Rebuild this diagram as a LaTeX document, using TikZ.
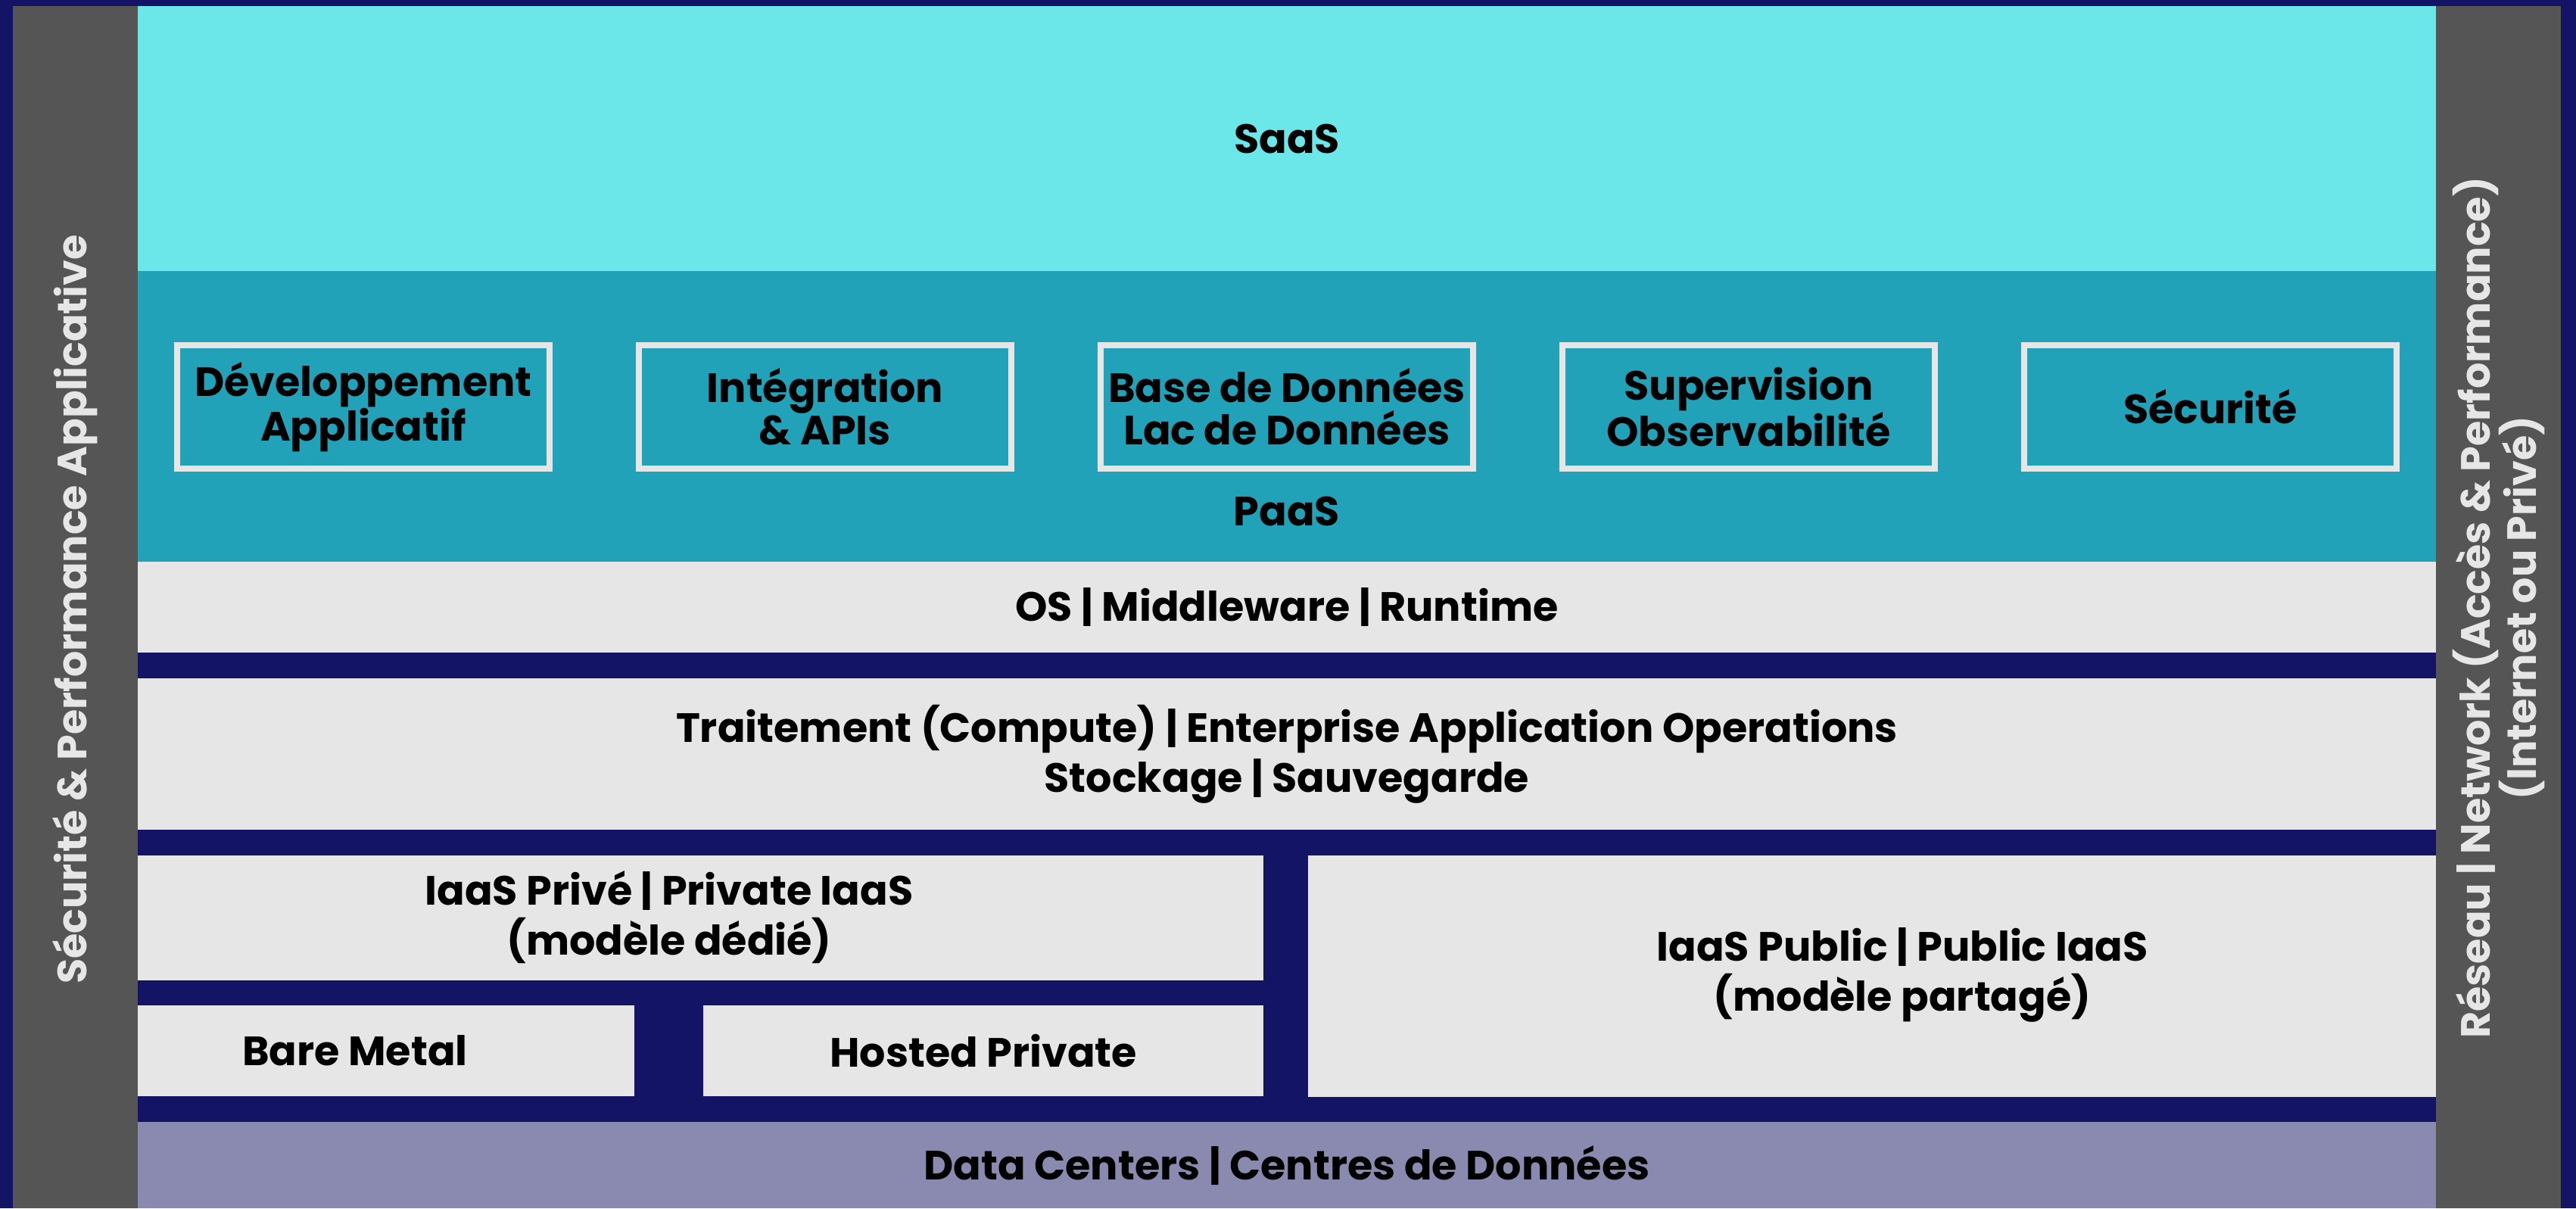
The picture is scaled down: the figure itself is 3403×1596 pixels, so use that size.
\documentclass[tikz,border=0pt]{standalone}
\usepackage{fontspec}
\setmainfont{Poppins}
\usetikzlibrary{fit}
\definecolor{navy}{HTML}{141466}
\definecolor{sidegray}{HTML}{555555}
\definecolor{saascol}{HTML}{6BE6E9}
\definecolor{paascol}{HTML}{22A2B8}
\definecolor{lightg}{HTML}{E6E6E6}
\definecolor{dccol}{HTML}{8A8AB1}
\begin{document}
\begin{tikzpicture}[x=0.5pt,y=-0.5pt,
  lbl/.style={font=\fontsize{27}{33}\selectfont\bfseries, align=center, text=black, inner sep=0},
  boxlbl/.style={lbl, font=\fontsize{27}{28}\selectfont\bfseries},
  sidelbl/.style={lbl, font=\fontsize{27}{30.5}\selectfont\bfseries, text=lightg, rotate=90},
  area/.style={inner sep=0, outer sep=0, draw=none},
  subbox/.style={inner sep=0, outer sep=0, draw=lightg, line width=4pt, fill=paascol}
]
\useasboundingbox (0,0) rectangle (3403,1596);
\fill[navy] (0,0) rectangle (3403,1596);
% side columns
\node[area, fill=sidegray, fit={(17,8) (182,1596)}] (leftcol) {};
\node[area, fill=sidegray, fit={(3218,8) (3383,1596)}] (rightcol) {};
% layers
\node[area, fill=saascol, fit={(182,8) (3218,358)}] (saas) {};
\node[area, fill=paascol, fit={(182,358) (3218,742)}] (paas) {};
\node[area, fill=lightg, fit={(182,742) (3218,862)}] (os) {};
\node[area, fill=lightg, fit={(182,896) (3218,1096)}] (compute) {};
\node[area, fill=lightg, fit={(182,1130) (1669,1295)}] (priv) {};
\node[area, fill=lightg, fit={(182,1328) (838,1448)}] (bare) {};
\node[area, fill=lightg, fit={(929,1328) (1669,1448)}] (hosted) {};
\node[area, fill=lightg, fit={(1728,1130) (3218,1449)}] (pub) {};
\node[area, fill=dccol, fit={(182,1482) (3218,1596)}] (dc) {};
% PaaS sub boxes
\node[subbox, fit={(234,456) (726,619)}] (dev) {};
\node[subbox, fit={(844,456) (1336,619)}] (integ) {};
\node[subbox, fit={(1454,456) (1946,619)}] (bdd) {};
\node[subbox, fit={(2064,456) (2556,619)}] (superv) {};
\node[subbox, fit={(2674,456) (3166,619)}] (secu) {};
% labels
\node[lbl] (saasT) at (saas.center) {SaaS};
\node[boxlbl] (devT) at (dev.center) {Développement\\Applicatif};
\node[boxlbl] (integT) at (integ.center) {Intégration\\\& APIs};
\node[boxlbl] (bddT) at (bdd.center) {Base de Données\\Lac de Données};
\node[boxlbl] (supervT) at (superv.center) {Supervision\\Observabilité};
\node[boxlbl] (secuT) at (secu.center) {Sécurité};
\node[lbl] (paasT) at (1700,675) {PaaS};
\node[lbl] (osT) at (os.center) {OS | Middleware | Runtime};
\node[lbl] (computeT) at (compute.center) {Traitement (Compute) | Enterprise Application Operations\\Stockage | Sauvegarde};
\node[lbl] (privT) at (884,1212) {IaaS Privé | Private IaaS\\(modèle dédié)};
\node[lbl] (bareT) at (469,1388) {Bare Metal};
\node[lbl] (hostedT) at (hosted.center) {Hosted Private};
\node[lbl] (pubT) at (2513,1288) {IaaS Public | Public IaaS\\(modèle partagé)};
\node[lbl] (dcT) at (dc.center) {Data Centers | Centres de Données};
\node[sidelbl] (leftT) at (99,805) {Sécurité \& Performance Applicative};
\node[sidelbl] (rightT) at (3301,803) {Réseau | Network (Accès \& Performance)\\(Internet ou Privé)};
\end{tikzpicture}
\end{document}
